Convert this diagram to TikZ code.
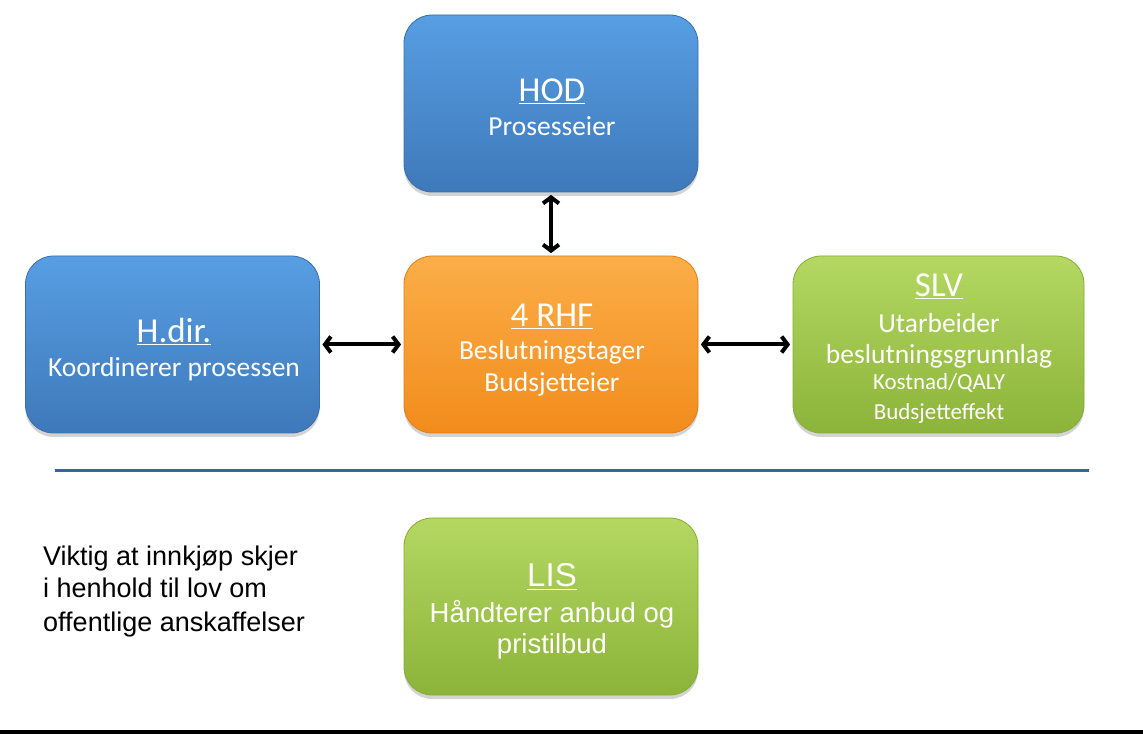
\documentclass[tikz,border=0pt]{standalone}
\usepackage{fontspec}
\setmainfont{Carlito}
\newfontfamily\arialfont{Liberation Sans}
\usetikzlibrary{arrows.meta,shadows}
\definecolor{bluetop}{HTML}{579EE2}
\definecolor{bluebot}{HTML}{3E79BA}
\definecolor{blueedge}{HTML}{3A6EA8}
\definecolor{orangetop}{HTML}{FBAE48}
\definecolor{orangebot}{HTML}{F28C1C}
\definecolor{orangeedge}{HTML}{E07F18}
\definecolor{greentop}{HTML}{B4D862}
\definecolor{greenbot}{HTML}{8CB33A}
\definecolor{greenedge}{HTML}{86AC38}
\definecolor{divider}{HTML}{3B64A0}
\tikzset{
  boxbase/.style={rounded corners=28pt, minimum width=294pt, minimum height=177pt, inner sep=0pt,
    drop shadow={opacity=0.35, shadow xshift=0pt, shadow yshift=-4pt}, line width=0.8pt},
  bluebox/.style={boxbase, draw=blueedge, top color=bluetop, bottom color=bluebot},
  orangebox/.style={boxbase, draw=orangeedge, top color=orangetop, bottom color=orangebot},
  greenbox/.style={boxbase, draw=greenedge, top color=greentop, bottom color=greenbot},
  head/.style={anchor=base, text=white, font=\fontsize{35}{40}\selectfont, inner sep=0pt},
  body/.style={anchor=base, text=white, font=\fontsize{27.5}{32}\selectfont, inner sep=0pt},
  small/.style={anchor=base, text=white, font=\fontsize{23}{28}\selectfont, inner sep=0pt},
  arhead/.style={anchor=base, text=white, inner sep=0pt, font=\arialfont\fontsize{33}{38}\selectfont},
  arbody/.style={anchor=base, text=white, inner sep=0pt, font=\arialfont\fontsize{27.5}{32}\selectfont},
  note/.style={anchor=base west, inner sep=0pt, font=\arialfont\fontsize{27}{32}\selectfont},
  link/.style={line width=4pt, {Straight Barb[length=6pt,width=16pt]}-{Straight Barb[length=6pt,width=16pt]}, shorten <=2.5pt, shorten >=2.5pt},
}
\begin{document}
\begin{tikzpicture}[x=1pt,y=1pt]
\useasboundingbox (0,0) rectangle (1143,734);
% boxes
\node[bluebox] (hod) at (551,630.5) {};
\node[bluebox] (hdir) at (172.5,389.5) {};
\node[orangebox] (rhf) at (551,389.5) {};
\node[greenbox, minimum width=291pt] (slv) at (938.5,389.5) {};
\node[greenbox] (lis) at (551,127.5) {};
% texts
\node[head] (hodh) at (552,632) {\underline{HOD}};
\node[body] (hodb) at (552,598) {Prosesseier};
\node[head] (hdirh) at (174,391) {\underline{H.dir.}};
\node[body] (hdirb) at (174,357) {Koordinerer prosessen};
\node[head] (rhfh) at (552,407) {\underline{4 RHF}};
\node[body] (rhfb1) at (552,374) {Beslutningstager};
\node[body] (rhfb2) at (552,342) {Budsjetteier};
\node[head] (slvh) at (939,437) {\underline{SLV}};
\node[body] (slvb1) at (939,401) {Utarbeider};
\node[body] (slvb2) at (939,370) {beslutningsgrunnlag};
\node[small] (slvb3) at (939,344) {Kostnad/QALY};
\node[small] (slvb4) at (939,314) {Budsjetteffekt};
\node[arhead] (lish) at (552,147) {\underline{LIS}};
\node[arbody] (lisb1) at (552,112) {Håndterer anbud og};
\node[arbody] (lisb2) at (552,81) {pristilbud};
\node[note] (note1) at (43,168) {Viktig at innkjøp skjer};
\node[note] (note2) at (43,136) {i henhold til lov om};
\node[note] (note3) at (43,103) {offentlige anskaffelser};
% connectors
\draw[link] (hod.south) -- (rhf.north);
\draw[link] (hdir.east) -- (rhf.west);
\draw[link] (rhf.east) -- (slv.west);
% lines
\coordinate (dl) at (55,263);
\coordinate (dr) at (1089,263);
\draw[divider, line width=3pt] (dl) -- (dr);
\coordinate (bl) at (0,2);
\coordinate (br) at (1143,2);
\draw[black, line width=4pt] (bl) -- (br);
\end{tikzpicture}
\end{document}
